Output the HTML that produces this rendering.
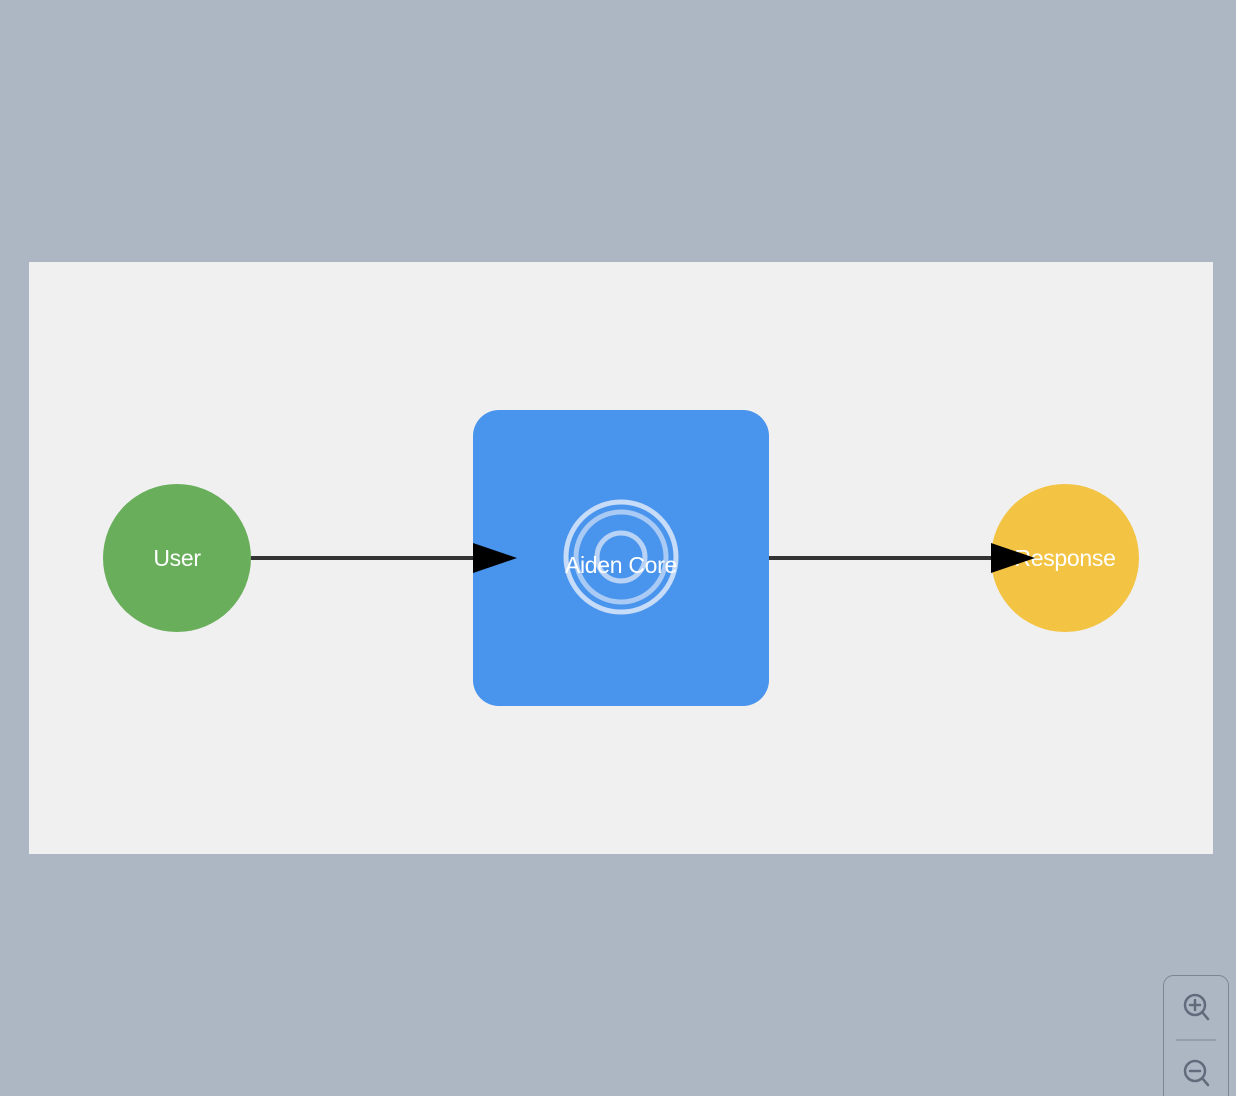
<!DOCTYPE html>
<html><head><style>
html,body{margin:0;padding:0;width:1236px;height:1096px;overflow:hidden;background:#adb7c4;font-family:"Liberation Sans",sans-serif;}
</style></head><body>
<svg width="1236" height="1096" style="position:absolute;left:0;top:0">
<rect x="29" y="262" width="1184" height="592" fill="#f0f0f0"/>
<line x1="250" y1="558" x2="480" y2="558" stroke="#333" stroke-width="4"/>
<line x1="768" y1="558" x2="998" y2="558" stroke="#333" stroke-width="4"/>
<circle cx="177" cy="558" r="74" fill="#69ae5b"/>
<text x="177" y="566" fill="#fff" font-size="23" text-anchor="middle" font-family="Liberation Sans" letter-spacing="-0.3">User</text>
<rect x="473" y="410" width="296" height="296" rx="26" fill="#4994ec"/>
<circle cx="621" cy="557" r="55" fill="none" stroke="#c6dcf8" stroke-width="5"/>
<circle cx="621" cy="557" r="45" fill="none" stroke="#a9caf4" stroke-width="5"/>
<circle cx="621" cy="557" r="24" fill="none" stroke="#b8d3f6" stroke-width="5"/>
<text x="621" y="573" fill="#fff" font-size="23" text-anchor="middle" font-family="Liberation Sans" letter-spacing="-0.3">Aiden Core</text>
<circle cx="1065" cy="558" r="74" fill="#f3c343"/>
<text x="1065" y="566" fill="#fff" font-size="23" text-anchor="middle" font-family="Liberation Sans" letter-spacing="-0.3">Response</text>
<polygon points="473,543 517,558 473,573" fill="#000"/>
<polygon points="991,543 1035,558 991,573" fill="#000"/>
<rect x="1163.5" y="975.5" width="65" height="140" rx="10" fill="none" stroke="#7d8594" stroke-width="1"/>
<line x1="1176" y1="1040" x2="1216" y2="1040" stroke="#7d8594" stroke-width="1"/>
<g fill="none" stroke="#626b7c" stroke-width="2.5" stroke-linecap="round">
<circle cx="1195" cy="1005" r="10"/><line x1="1202" y1="1012" x2="1208" y2="1019"/>
<line x1="1190" y1="1005" x2="1200" y2="1005"/><line x1="1195" y1="1000" x2="1195" y2="1010"/>
<circle cx="1195" cy="1071" r="10"/><line x1="1202" y1="1078" x2="1208" y2="1085"/>
<line x1="1190" y1="1071" x2="1200" y2="1071"/>
</g>
</svg>
</body></html>
